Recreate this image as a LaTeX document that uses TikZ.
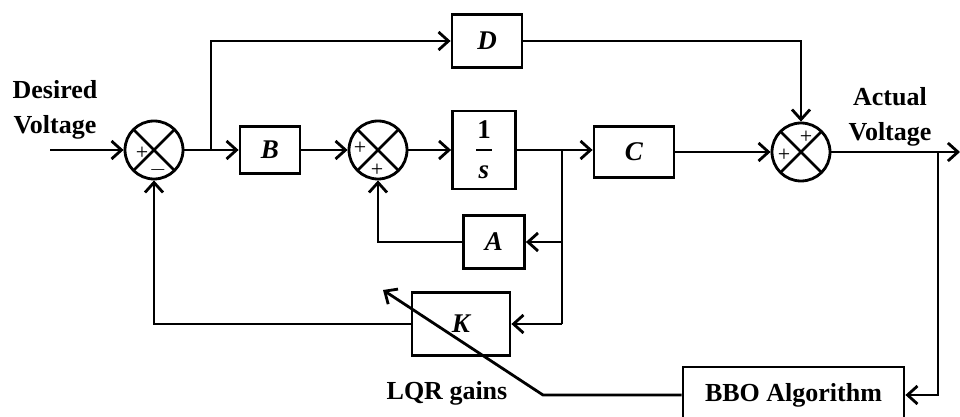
\documentclass[tikz,border=0pt]{standalone}
\usepackage{fontspec}
\setmainfont{Liberation Serif}
\usetikzlibrary{arrows.meta}
\tikzset{
	blk/.style={draw, line width=1.4pt, inner sep=0pt, font=\fontsize{13.5}{15}\selectfont\bfseries\itshape},
	sumnode/.style={draw, circle, line width=1.4pt, minimum size=29pt, inner sep=0pt,
		path picture={\draw[line width=1.4pt] (path picture bounding box.north west)--(path picture bounding box.south east)
			(path picture bounding box.north east)--(path picture bounding box.south west);}},
	sgn/.style={font=\fontsize{11}{12}\selectfont, inner sep=0pt},
	lbl/.style={font=\fontsize{13}{17.5}\selectfont\bfseries, align=center}
}
\begin{document}
\begin{tikzpicture}[>={Straight Barb[length=5pt,width=9pt]}, x=.5pt, y=-.5pt, line width=1.4pt]
	\useasboundingbox (0,0) rectangle (960,417);
	\clip (0,0) rectangle (960,417);
	\node[sumnode] (s1) at (154,150) {};% tổng 1
	\node[sumnode] (s2) at (378,150) {};% tổng 2
	\node[sumnode] (s3) at (801,152) {};% tổng 3
	\node[sgn] (p1) at (142,153) {+}; \node[sgn] (m1) at (158,170) {$-$};
	\node[sgn] (p2) at (360,148) {+}; \node[sgn] (p3) at (377,170) {+};
	\node[sgn] (p4) at (806,137) {+}; \node[sgn] (p5) at (784,155) {+};
	\node[blk, minimum width=35pt, minimum height=26.5pt] (bD) at (487,41) {D};
	\node[blk, minimum width=30pt, minimum height=23.5pt] (bB) at (270,150) {B};
	\node[blk, minimum width=31.5pt, minimum height=39pt, align=center, font=\fontsize{13.5}{13}\selectfont\bfseries] (bI) at (484,150) {1\\[-4pt]\rule[3pt]{8pt}{.8pt}\\[-2pt]\textit{s}};
	\node[blk, minimum width=40pt, minimum height=25.5pt] (bC) at (634,152) {C};
	\node[blk, minimum width=30.5pt, minimum height=26.5pt] (bA) at (494,242) {A};
	\node[blk, minimum width=49pt, minimum height=31.5pt] (bK) at (461,324) {K};
	\node[draw, minimum width=110.5pt, minimum height=28pt, font=\fontsize{13}{15}\selectfont\bfseries] (bbo) at (793.5,395) {BBO Algorithm};
	\node[lbl] (lin) at (55,110) {Desired\\Voltage};
	\node[lbl] (lout) at (890,117) {Actual\\Voltage};
	\node[lbl] (lqr) at (447,393) {LQR gains};
	\coordinate (in) at (50,150);
	\coordinate (j1) at (211,150);
	\coordinate (j2) at (562,150);
	\coordinate (jA) at (562,242);
	\coordinate (jK) at (562,324);
	\coordinate (j3) at (938,152);
	\coordinate (out) at (960,152);
	\coordinate (kn) at (543,395);
	\coordinate (kt) at (383,290);
	\draw[->] (in) -- (s1);
	\draw[->] (s1) -- (bB);
	\draw[->] (j1) |- (bD);
	\draw[->] (bB) -- (s2);
	\draw[->] (s2) -- (bI);
	\draw (bI) -- (j2);
	\draw[->] (j2) -- (bC.west |- j2);
	\draw[->] (bC) -- (s3);
	\draw[->] (bD) -| (s3);
	\draw[->] (s3) -- (out);
	\draw (j2) -- (jK);
	\draw[->] (jA) -- (bA);
	\draw[->] (jK) -- (bK);
	\draw[->] (bA) -| (s2);
	\draw[->] (bK) -| (s1);
	\draw[->] (j3) |- (bbo);
	\draw[->] (bbo) -- (kn) -- (kt);% mũi tên chéo
\end{tikzpicture}
\end{document}
